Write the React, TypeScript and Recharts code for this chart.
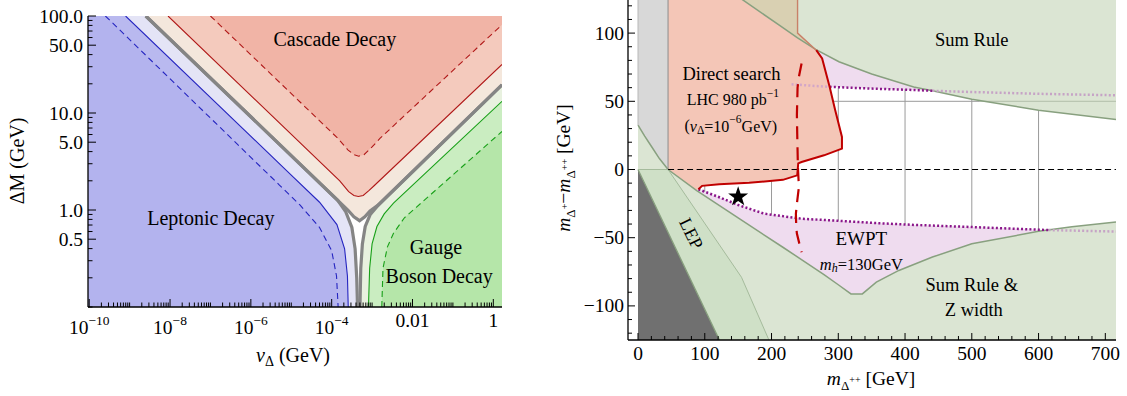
import React from 'react';
import { ComposedChart, Area, Line, XAxis, YAxis, ReferenceDot } from 'recharts';

const FONT = "'Liberation Serif','Times New Roman',Times,serif";
type P = [number, number];

// ================= LEFT PANEL (log10 v_Delta [GeV] vs log10 DeltaM [GeV]) =================
const leftXDomain: [number, number] = [-10.03, 0.215];
const leftYDomain: [number, number] = [-1, 2];

const blueDashed: P[] = [[-9.6, 2], [-5.3, 0.26], [-4.78, 0.05], [-4.3, -0.18], [-4.0, -0.42], [-3.88, -0.68], [-3.84, -1.0]];
const blueSolid: P[] = [[-9.1, 2], [-5.0, 0.36], [-4.3, 0.08], [-3.87, -0.15], [-3.68, -0.4], [-3.61, -0.68], [-3.59, -1.0]];
const grayLeptonic: P[] = [[-8.6, 2], [-4.3, 0.28], [-3.85, 0.1], [-3.65, -0.02], [-3.5, -0.18], [-3.42, -0.4], [-3.38, -0.7], [-3.36, -1.0]];
const grayCascade: P[] = [[-8.6, 2], [-4.3, 0.28], [-3.85, 0.1], [-3.6, 0.0], [-3.45, -0.07], [-3.31, -0.11], [-3.18, -0.07], [-3.05, -0.01], [-2.85, 0.05], [0.215, 1.29]];
const grayGauge: P[] = [[-3.3, -1.0], [-3.28, -0.6], [-3.24, -0.35], [-3.17, -0.17], [-3.05, -0.05], [-2.85, 0.05], [0.215, 1.29]];
const redSolid: P[] = [[-8.05, 2], [-3.8, 0.3], [-3.58, 0.19], [-3.45, 0.15], [-3.34, 0.14], [-3.22, 0.15], [-3.08, 0.2], [-2.95, 0.25], [0.215, 1.5]];
const redDashed: P[] = [[-7.0, 2], [-3.85, 0.74], [-3.6, 0.62], [-3.45, 0.57], [-3.33, 0.555], [-3.2, 0.57], [-3.0, 0.65], [-2.8, 0.74], [0.215, 1.91]];
const greenSolid: P[] = [[-3.09, -1.0], [-3.06, -0.6], [-3.0, -0.35], [-2.88, -0.17], [-2.7, -0.04], [-2.47, 0.07], [0.215, 1.12]];
const greenDashed: P[] = [[-2.76, -1.0], [-2.73, -0.6], [-2.62, -0.38], [-2.47, -0.24], [-2.2, -0.08], [-1.9, 0.03], [0.215, 0.81]];

const leftXMajor = [-10, -8, -6, -4, -2, 0];
const leftXMajorBase = ['10', '10', '10', '10', '0.01', '1'];
const leftXMajorExp = ['−10', '−8', '−6', '−4', '', ''];
const leftYMajorValues = [100, 50, 10, 5, 1, 0.5];
const leftYMajorText = ['100.0', '50.0', '10.0', '5.0', '1.0', '0.5'];
const logMultipliers = [1, 2, 3, 4, 5, 6, 7, 8, 9];

const leftLabels = [
  { x: -3.92, y: 1.76, text: 'Cascade Decay' },
  { x: -6.99, y: -0.086, text: 'Leptonic Decay' },
  { x: -1.42, y: -0.378, text: 'Gauge' },
  { x: -1.34, y: -0.68, text: 'Boson Decay' },
];

// ================= RIGHT PANEL (m_{Δ++} vs m_{Δ+} - m_{Δ++}) =================
const rightXDomain: [number, number] = [-15, 716];
const rightYDomain: [number, number] = [-125, 125];

const sumRuleCurve: P[] = [[155, 125], [211, 106], [239, 96.5], [266, 88], [301, 79], [350, 70], [413, 60.5], [441, 57.7], [500, 51.5], [600, 43.5], [716, 36.6]];
const lowerCurve: P[] = [[0, 32.5], [10, 24.5], [20.7, 16.5], [32, 8], [45, 0], [88, -15.5], [150, -35.5], [217, -57], [278.6, -77], [300, -84.5], [319, -91.2], [336, -91.2], [357, -82.6], [390.7, -74], [441, -64.2], [500, -54.5], [600, -45.3], [650, -42], [716, -38.5]];
const lepThinLine: P[] = [[0, 0], [45, 0], [155, -79], [197, -126]];
const darkEdge: P[] = [[0, 0], [122, -125]];
const brownLine: P[] = [[239, 126], [239, 100], [267, 87.5]];
const redSearchLine: P[] = [[267, 87.5], [275.8, 81.4], [287, 60.6], [295.4, 43.5], [305.5, 23.9], [305.5, 15.3], [278.6, 10.4], [245, 5.5], [240, 4.5], [238.5, -4.3], [217, -7.6], [166.5, -9.8], [121.6, -10.8], [96, -12], [90.5, -14.5]];
// excluded direct-search region: x, lower edge, upper edge
const redRegionX = [45, 88, 90.5, 96, 121.6, 166.5, 217, 238.5, 238.9, 239, 240, 245, 267, 275.8, 278.6, 287, 295.4, 305.5];
const redRegionLow = [0, -15.5, -14.5, -12, -10.8, -9.8, -7.6, -4.3, -3, -3, 4.5, 5.5, 8.7, 9.9, 10.4, 11.9, 13.4, 15.3];
const redRegionHigh = [126, 126, 126, 126, 126, 126, 126, 126, 126, 100, 99.6, 97.3, 87.5, 81.4, 76.2, 60.6, 43.5, 23.9];
const redDashedLine: P[] = [[245, 77.7], [241, 68], [239, 60], [238, 40], [238.5, 26], [239.5, 2], [241, -12.8], [238, -25], [236.5, -32.4], [237, -42], [238, -47], [242, -55], [245, -60.6]];
const dottedUpper: P[] = [[230, 62.5], [267, 61.2], [287, 60.6], [350, 59.3], [413, 58.3], [441, 57.7], [500, 56.8], [600, 55.5], [716, 54.4]];
const dottedLower: P[] = [[90.5, -14.5], [120, -20], [150, -26], [189, -32.4], [245, -36.1], [300, -37.6], [357, -39.3], [413, -40.6], [500, -42.2], [600, -44.1], [615, -44.4], [716, -45.5]];
const oliveX = [155, 211, 239, 239.01, 267];
const oliveLow = [125, 106, 96.5, 96.5, 87.5];
const oliveHigh = [126, 126, 126, 100, 87.5];
const gridSegments: P[][] = [
  [[100, -16.5], [100, -11.5]], [[200, -33], [200, -8]], [[300, -37.6], [300, 60]],
  [[400, -40.3], [400, 58.8]], [[500, -42.2], [500, 51.5]], [[600, -44.1], [600, 43.5]],
  [[280, 50], [512, 50]],
];
const gridInGreen: P[] = [[512, 50], [716, 50]];
const zeroDashed: P[] = [[45, 0], [716, 0]];
const stripEdge: P[] = [[45, 0], [45, 126]];
const stripLeftEdge: P[] = [[0, 32.5], [0, 126]];
const starPoint = { x: 150, y: -20 };

const rightXMajor = [0, 100, 200, 300, 400, 500, 600, 700];
const rightXMajorText = ['0', '100', '200', '300', '400', '500', '600', '700'];
const rightYMajor = [-100, -50, 0, 50, 100];
const rightYMajorText = ['−100', '−50', '0', '50', '100'];

const rightLabels = [
  { x: 500, y: 95.3, size: 18.5, text: 'Sum Rule' },
  { x: 140, y: 70, size: 18.5, text: 'Direct search' },
  { x: 334.6, y: -50.8, size: 19, text: 'EWPT' },
  { x: 500, y: -85, size: 18.5, text: 'Sum Rule &' },
  { x: 503, y: -102.9, size: 18.5, text: 'Z width' },
];

// ================= helpers =================
const asLine = (a: P[]) => a.map(([x, y]) => ({ x, y }));
const fillBelow = (a: P[], lo: number) => a.map(([x, y]) => ({ x, r: [lo, y] }));
const fillAbove = (a: P[], hi: number) => a.map(([x, y]) => ({ x, r: [y, hi] }));
const band = (xs: number[], lo: number[], hi: number[]) => xs.map((x, i) => ({ x, r: [lo[i], hi[i]] }));

const area = (key: string, data: any[], fill: string, z: number) => (
  <Area key={key} data={data} dataKey="r" type="linear" stroke="none" fill={fill} fillOpacity={1}
    isAnimationActive={false} dot={false} activeDot={false} zIndex={z} />
);
const line = (key: string, data: P[], stroke: string, width: number, z: number, dash?: string) => (
  <Line key={key} data={asLine(data)} dataKey="y" type="linear" stroke={stroke} strokeWidth={width}
    strokeDasharray={dash} dot={false} activeDot={false} isAnimationActive={false} zIndex={z} />
);

const near = (a: number, b: number) => Math.abs(a - b) < 1e-6;
type TickCfg = { side: 'b' | 't' | 'l' | 'r'; majors: number[]; major: number; minor: number; render?: (i: number, x: number, y: number) => React.ReactNode };
const makeTick = (c: TickCfg) => (p: any) => {
  const { x, y, payload } = p;
  const v = payload.value;
  const idx = c.majors.findIndex((m) => near(m, v));
  const L = idx >= 0 ? c.major : c.minor;
  let x2 = x, y2 = y;
  if (c.side === 'b') y2 = y - L;
  else if (c.side === 't') y2 = y + L;
  else if (c.side === 'l') x2 = x + L;
  else x2 = x - L;
  return (
    <g>
      <line x1={x} y1={y} x2={x2} y2={y2} stroke="#000" strokeWidth={1} />
      {idx >= 0 && c.render ? c.render(idx, x, y) : null}
    </g>
  );
};

const textShape = (content: React.ReactNode, size: number, rotate = 0) => (p: any) => (
  <text x={p.cx} y={p.cy} textAnchor="middle" dominantBaseline="central" fontFamily={FONT} fontSize={size} fill="#000"
    transform={rotate ? `rotate(${rotate} ${p.cx} ${p.cy})` : undefined}>{content}</text>
);
const starShape = (p: any) => {
  const { cx, cy } = p;
  const pts: string[] = [];
  for (let i = 0; i < 10; i++) {
    const a = -Math.PI / 2 + (i * Math.PI) / 5;
    const rad = i % 2 === 0 ? 10.5 : 4.1;
    pts.push(`${cx + rad * Math.cos(a)},${cy + rad * Math.sin(a)}`);
  }
  return <polygon points={pts.join(' ')} fill="#000" />;
};

// ticks
const leftXTicks: number[] = [];
for (let d = -10; d <= 0; d++) for (const k of logMultipliers) { const v = d + Math.log10(k); if (v >= leftXDomain[0] - 1e-9 && v <= leftXDomain[1]) leftXTicks.push(v); }
const leftYTicks: number[] = [];
for (let d = -1; d <= 2; d++) for (const k of logMultipliers) { const v = d + Math.log10(k); if (v >= leftYDomain[0] - 1e-9 && v <= leftYDomain[1] + 1e-9) leftYTicks.push(v); }
const leftYMajorLog = leftYMajorValues.map((v) => Math.log10(v));
const rightXTicks: number[] = [];
for (let v = 0; v <= 700; v += 20) rightXTicks.push(v);
const rightYTicks: number[] = [];
for (let v = -120; v <= 120; v += 10) rightYTicks.push(v);

const leftBottomTick = makeTick({
  side: 'b', majors: leftXMajor, major: 8, minor: 4.5,
  render: (i, x, y) => leftXMajorExp[i] ? (
    <text x={x} y={y + 26.5} textAnchor="middle" fontFamily={FONT} fontSize={19.5} fill="#000">
      {leftXMajorBase[i]}<tspan dy={-9} fontSize={13.5}>{leftXMajorExp[i]}</tspan>
    </text>
  ) : (
    <text x={x} y={y + 20} textAnchor="middle" fontFamily={FONT} fontSize={19.5} fill="#000">{leftXMajorBase[i]}</text>
  ),
});
const leftTopTick = makeTick({ side: 't', majors: leftXMajor, major: 8, minor: 4.5 });
const leftLeftTick = makeTick({
  side: 'l', majors: leftYMajorLog, major: 8, minor: 4.5,
  render: (i, x, y) => (
    <text x={x - 5} y={y + 6.5} textAnchor="end" fontFamily={FONT} fontSize={19.5} fill="#000">{leftYMajorText[i]}</text>
  ),
});
const leftRightTick = makeTick({ side: 'r', majors: leftYMajorLog, major: 8, minor: 4.5 });

const rightBottomTick = makeTick({
  side: 'b', majors: rightXMajor, major: 7, minor: 4,
  render: (i, x, y) => (
    <text x={x} y={y + 19.5} textAnchor="middle" fontFamily={FONT} fontSize={19.5} fill="#000">{rightXMajorText[i]}</text>
  ),
});
const rightTopTick = makeTick({ side: 't', majors: rightXMajor, major: 7, minor: 4 });
const rightLeftTick = makeTick({
  side: 'l', majors: rightYMajor, major: 7, minor: 4,
  render: (i, x, y) => (
    <text x={x - 4} y={y + 6.5} textAnchor="end" fontFamily={FONT} fontSize={19.5} fill="#000">{rightYMajorText[i]}</text>
  ),
});
const rightRightTick = makeTick({ side: 'r', majors: rightYMajor, major: 7, minor: 4 });

const axisLine = { stroke: '#000', strokeWidth: 1.3 };

function LeftChart() {
  const lo = -1.05, hi = 2.05, x0 = leftXDomain[0];
  return (
    <ComposedChart width={520} height={396} margin={{ top: 16, right: 18, bottom: 0, left: 0 }}>
      {area('lepL', fillBelow([[x0, 2], ...grayLeptonic], lo), '#e4e4f6', 10)}
      {area('lepM', fillBelow([[x0, 2], ...blueSolid], lo), '#b9b9ef', 11)}
      {area('lepS', fillBelow([[x0, 2], ...blueDashed], lo), '#b3b3ee', 12)}
      {area('casL', fillAbove(grayCascade, hi), '#f4e7dc', 13)}
      {area('casM', fillAbove(redSolid, hi), '#f4cabd', 14)}
      {area('casS', fillAbove(redDashed, hi), '#f1b4a6', 15)}
      {area('gauL', fillBelow(grayGauge, lo), '#e8f1df', 16)}
      {area('gauM', fillBelow(greenSolid, lo), '#caedc1', 17)}
      {area('gauS', fillBelow(greenDashed, lo), '#b5e6a9', 18)}
      {line('bd', blueDashed, '#2525c0', 1.1, 30, '6 4')}
      {line('bs', blueSolid, '#2525c0', 1.1, 30)}
      {line('rd', redDashed, '#b01818', 1.1, 30, '6 4')}
      {line('rs', redSolid, '#b01818', 1.1, 30)}
      {line('gd', greenDashed, '#18a018', 1.1, 30, '6 4')}
      {line('gs', greenSolid, '#18a018', 1.1, 30)}
      {line('g1', grayLeptonic, '#858585', 3.2, 31)}
      {line('g2', grayCascade, '#858585', 3.2, 31)}
      {line('g3', grayGauge, '#858585', 3.2, 31)}
      {leftLabels.map((l) => (
        <ReferenceDot key={l.text} x={l.x} y={l.y} r={0} shape={textShape(l.text, 20)} zIndex={900} />
      ))}
      <XAxis type="number" dataKey="x" domain={leftXDomain} allowDataOverflow ticks={leftXTicks} interval={0}
        tickSize={0} tickMargin={0} tickLine={false} tick={leftBottomTick} axisLine={axisLine} height={89} />
      <XAxis xAxisId="top" orientation="top" type="number" dataKey="x" domain={leftXDomain} allowDataOverflow ticks={leftXTicks}
        interval={0} tickSize={0} tickMargin={0} tickLine={false} tick={leftTopTick} axisLine={axisLine} height={0} />
      <YAxis type="number" domain={leftYDomain} allowDataOverflow ticks={leftYTicks} interval={0}
        tickSize={0} tickMargin={0} tickLine={false} tick={leftLeftTick} axisLine={axisLine} width={88} />
      <YAxis yAxisId="right" orientation="right" type="number" domain={leftYDomain} allowDataOverflow ticks={leftYTicks}
        interval={0} tickSize={0} tickMargin={0} tickLine={false} tick={leftRightTick} axisLine={axisLine} width={0} />
    </ComposedChart>
  );
}

function RightChart() {
  const top = 126, bot = -126;
  const GREEN = '#dbe5d3';
  return (
    <ComposedChart width={587} height={397} margin={{ top: 0, right: 11, bottom: 0, left: 0 }}>
      {area('pinkU', fillAbove(dottedUpper, top), '#efdcef', 10)}
      {area('pinkL', fillBelow(dottedLower, bot), '#efdcef', 10)}
      {gridSegments.map((s, i) => line('grid' + i, s, '#9a9a9a', 1, 20))}
      {area('lgray', fillAbove(lowerCurve.slice(0, 5), top), '#d8d8d8', 30)}
      {area('red', band(redRegionX, redRegionLow, redRegionHigh), '#f4c6b7', 31)}
      {area('greenLow', fillBelow(lowerCurve, bot), GREEN, 40)}
      {area('greenSum', fillAbove(sumRuleCurve, top), GREEN, 40)}
      {area('olive', band(oliveX, oliveLow, oliveHigh), '#d9d0b2', 41)}
      {area('lepBand', fillBelow(lepThinLine, bot), '#cfe0c7', 42)}
      {area('dark', fillBelow(darkEdge, bot), '#707070', 43)}
      {line('gridG', gridInGreen, '#b2bfab', 1, 45)}
      {line('sumLine', sumRuleCurve, '#88a07f', 1.5, 50)}
      {line('lowLine', lowerCurve, '#88a07f', 1.5, 50)}
      {line('darkLine', darkEdge, '#88a07f', 1.3, 50)}
      {line('lepLine', lepThinLine, '#a5bb9c', 1, 50)}
      {line('strip', stripEdge, '#8c8c8c', 1, 50)}
      {line('stripL', stripLeftEdge, '#b8b8b8', 1, 50)}
      {line('brown', brownLine, '#c98068', 1.4, 50)}
      {line('dotU1', dottedUpper.slice(0, 3), '#d3a6c8', 2.5, 55, '2 2.2')}
      {line('dotU2', dottedUpper.slice(2, 6), '#8a168a', 2.5, 55, '2 2.2')}
      {line('dotU3', dottedUpper.slice(5), '#c6a3c6', 2.5, 55, '2 2.2')}
      {line('dotL1', dottedLower.slice(0, 11), '#8a168a', 2.5, 55, '2 2.2')}
      {line('dotL2', dottedLower.slice(10), '#c6a3c6', 2.5, 55, '2 2.2')}
      {line('zero', zeroDashed, '#000', 1.2, 60, '6 3.5')}
      {line('redLine', redSearchLine, '#c00000', 2, 70)}
      {line('redDash', redDashedLine, '#c00000', 2.2, 70, '13 8')}
      <ReferenceDot x={starPoint.x} y={starPoint.y} r={0} shape={starShape} zIndex={800} />
      {rightLabels.map((l) => (
        <ReferenceDot key={l.text} x={l.x} y={l.y} r={0} shape={textShape(l.text, l.size)} zIndex={900} />
      ))}
      <ReferenceDot x={142} y={51} r={0} zIndex={900}
        shape={textShape(<>LHC 980 pb<tspan dy={-7} fontSize={11.5}>−1</tspan></>, 16)} />
      <ReferenceDot x={139} y={32} r={0} zIndex={900}
        shape={textShape(<>(<tspan fontStyle="italic">v</tspan><tspan dy={4} fontSize={11.5}>Δ</tspan><tspan dy={-4}>=10</tspan><tspan dy={-7} fontSize={11.5}>−6</tspan><tspan dy={7}>GeV)</tspan></>, 16)} />
      <ReferenceDot x={334.6} y={-69} r={0} zIndex={900}
        shape={textShape(<><tspan fontStyle="italic">m</tspan><tspan dy={4} fontSize={12} fontStyle="italic">h</tspan><tspan dy={-4}>=130GeV</tspan></>, 16.5)} />
      <ReferenceDot x={79.6} y={-47} r={0} zIndex={900} shape={textShape('LEP', 18, 64)} />
      <XAxis type="number" dataKey="x" domain={rightXDomain} allowDataOverflow ticks={rightXTicks} interval={0}
        tickSize={0} tickMargin={0} tickLine={false} tick={rightBottomTick} axisLine={axisLine} height={56} />
      <XAxis xAxisId="top" orientation="top" type="number" dataKey="x" domain={rightXDomain} allowDataOverflow ticks={rightXTicks}
        interval={0} tickSize={0} tickMargin={0} tickLine={false} tick={rightTopTick} axisLine={axisLine} height={0} />
      <YAxis type="number" domain={rightYDomain} allowDataOverflow ticks={rightYTicks} interval={0}
        tickSize={0} tickMargin={0} tickLine={false} tick={rightLeftTick} axisLine={axisLine} width={88} />
      <YAxis yAxisId="right" orientation="right" type="number" domain={rightYDomain} allowDataOverflow ticks={rightYTicks}
        interval={0} tickSize={0} tickMargin={0} tickLine={false} tick={rightRightTick} axisLine={axisLine} width={0} />
    </ComposedChart>
  );
}

export default function App() {
  return (
    <div style={{ position: 'absolute', left: 0, top: 0, width: 1127, height: 396, background: '#fff', overflow: 'hidden' }}>
      <div style={{ position: 'absolute', left: 0, top: 0 }}><LeftChart /></div>
      <div style={{ position: 'absolute', left: 540, top: -1 }}><RightChart /></div>
      <svg style={{ position: 'absolute', left: 0, top: 0, pointerEvents: 'none' }} width={1127} height={396}>
        <g fontFamily={FONT} fill="#000">
          <text x={23.5} y={161} fontSize={20} textAnchor="middle" transform="rotate(-90 23.5 161)">ΔM (GeV)</text>
          <text x={293} y={362} fontSize={20} textAnchor="middle">
            <tspan fontStyle="italic">v</tspan><tspan dy={4} fontSize={14}>Δ</tspan><tspan dy={-4}> (GeV)</tspan>
          </text>
          <text x={871} y={385} fontSize={19.5} textAnchor="middle">
            <tspan fontStyle="italic">m</tspan><tspan dy={5} fontSize={13}>Δ</tspan><tspan dy={-7} fontSize={10}>++</tspan><tspan dy={2}> [GeV]</tspan>
          </text>
          <text x={570} y={168} fontSize={19.5} textAnchor="middle" transform="rotate(-90 570 168)">
            <tspan fontStyle="italic">m</tspan><tspan dy={5} fontSize={13}>Δ</tspan><tspan dy={-7} fontSize={10}>+</tspan><tspan dy={2}>−</tspan><tspan fontStyle="italic">m</tspan><tspan dy={5} fontSize={13}>Δ</tspan><tspan dy={-7} fontSize={10}>++</tspan><tspan dy={2}> [GeV]</tspan>
          </text>
        </g>
      </svg>
    </div>
  );
}
